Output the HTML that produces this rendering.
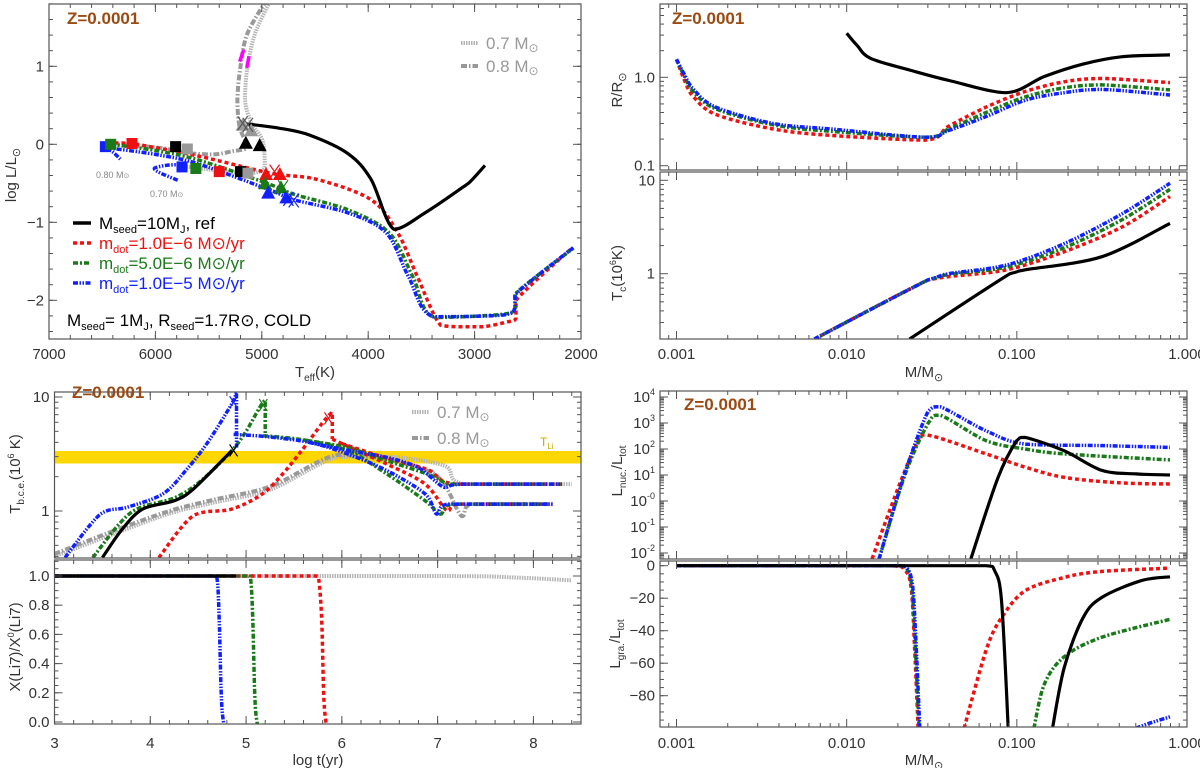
<!DOCTYPE html>
<html><head><meta charset="utf-8"><style>
html,body{margin:0;padding:0;background:#fff}
svg{display:block;font-family:"Liberation Sans","DejaVu Sans",sans-serif}
</style></head><body>
<svg id="chart" width="1200" height="768" viewBox="0 0 1200 768" xmlns="http://www.w3.org/2000/svg">
<defs>
<clipPath id="c1"><rect x="49" y="4" width="532" height="335"/></clipPath>
<clipPath id="c2"><rect x="54.5" y="392" width="526.5" height="166"/></clipPath>
<clipPath id="c3"><rect x="54.5" y="560" width="526.5" height="164"/></clipPath>
<clipPath id="c4"><rect x="660" y="4" width="527" height="166"/></clipPath>
<clipPath id="c5"><rect x="660" y="172" width="527" height="167"/></clipPath>
<clipPath id="c6"><rect x="660" y="391" width="527" height="168"/></clipPath>
<clipPath id="c7"><rect x="660" y="561" width="527" height="166"/></clipPath>
</defs>
<rect x="54.5" y="451" width="526.5" height="12.5" fill="#ffd700"/>
<g id="layer"></g>
<g font-size="15" fill="#333">
<text x="67" y="24" font-size="17" font-weight="bold" fill="#9a4a12">Z=0.0001</text>
<text x="72" y="398" font-size="17" font-weight="bold" fill="#9a4a12">Z=0.0001</text>
<text x="672" y="24" font-size="17" font-weight="bold" fill="#9a4a12">Z=0.0001</text>
<text x="684" y="410" font-size="17" font-weight="bold" fill="#9a4a12">Z=0.0001</text>
<text x="315" y="377" text-anchor="middle">T<tspan font-size="10" dy="4">eff</tspan><tspan dy="-4">(K)</tspan></text>
<text x="318" y="765" text-anchor="middle">log  t(yr)</text>
<text x="924" y="377" text-anchor="middle">M/M<tspan font-size="11" dy="4">⊙</tspan></text>
<text x="924" y="765" text-anchor="middle">M/M<tspan font-size="11" dy="4">⊙</tspan></text>
<text transform="translate(16,175) rotate(-90)" text-anchor="middle">log  L/L<tspan font-size="11" dy="4">⊙</tspan></text>
<text transform="translate(20,474) rotate(-90)" text-anchor="middle">T<tspan font-size="10" dy="4">b.c.e.</tspan><tspan dy="-4">(10</tspan><tspan font-size="9" dy="-6">6</tspan><tspan dy="6"> K)</tspan></text>
<text transform="translate(20,647) rotate(-90)" text-anchor="middle">X(Li7)/X<tspan font-size="9" dy="-6">0</tspan><tspan dy="6">(Li7)</tspan></text>
<text transform="translate(622,90) rotate(-90)" text-anchor="middle">R/R<tspan font-size="11" dy="4">⊙</tspan></text>
<text transform="translate(622,273) rotate(-90)" text-anchor="middle">T<tspan font-size="10" dy="4">c</tspan><tspan dy="-4">(10</tspan><tspan font-size="9" dy="-6">6</tspan><tspan dy="6">K)</tspan></text>
<text transform="translate(622,471) rotate(-90)" text-anchor="middle">L<tspan font-size="10" dy="4">nuc.</tspan><tspan dy="-4">/L</tspan><tspan font-size="10" dy="4">tot</tspan></text>
<text transform="translate(620,644) rotate(-90)" text-anchor="middle">L<tspan font-size="10" dy="4">gra.</tspan><tspan dy="-4">/L</tspan><tspan font-size="10" dy="4">tot</tspan></text>
<text x="96" y="178" font-size="9" fill="#888">0.80 M<tspan font-size="7">⊙</tspan></text>
<text x="150" y="197" font-size="9" fill="#888">0.70 M<tspan font-size="7">⊙</tspan></text>
<text x="540" y="446" font-size="12" fill="#c8a800">T<tspan font-size="8" dy="3">Li</tspan></text>
</g>
<g font-size="17">
<line x1="73" y1="223" x2="91" y2="223" stroke="#000" stroke-width="3.5"/>
<text x="99" y="229" fill="#000">M<tspan font-size="11" dy="4">seed</tspan><tspan dy="-4">=10M</tspan><tspan font-size="11" dy="4">J</tspan><tspan dy="-4">, ref</tspan></text>
<line x1="73" y1="243" x2="91" y2="243" stroke="#ee1111" stroke-width="3.5" stroke-dasharray="4,3"/>
<text x="99" y="249" fill="#ee1111">m<tspan font-size="11" dy="4">dot</tspan><tspan dy="-4">=1.0E−6 M⊙/yr</tspan></text>
<line x1="73" y1="263" x2="91" y2="263" stroke="#1a7a1a" stroke-width="3.5" stroke-dasharray="5,2,2,2"/>
<text x="99" y="269" fill="#1a7a1a">m<tspan font-size="11" dy="4">dot</tspan><tspan dy="-4">=5.0E−6 M⊙/yr</tspan></text>
<line x1="73" y1="283" x2="91" y2="283" stroke="#1020ff" stroke-width="3.5" stroke-dasharray="5,1.5,1.5,1.5,1.5,1.5"/>
<text x="99" y="289" fill="#1020ff">m<tspan font-size="11" dy="4">dot</tspan><tspan dy="-4">=1.0E−5 M⊙/yr</tspan></text>
<text x="67" y="326" fill="#000">M<tspan font-size="11" dy="4">seed</tspan><tspan dy="-4">=  1M</tspan><tspan font-size="11" dy="4">J</tspan><tspan dy="-4">, R</tspan><tspan font-size="11" dy="4">seed</tspan><tspan dy="-4">=1.7R⊙, COLD</tspan></text>
<line x1="461" y1="43" x2="478" y2="43" stroke="#b5b5b5" stroke-width="4" stroke-dasharray="1.5,1"/>
<text x="486" y="49" fill="#999">0.7 M<tspan font-size="12" dy="3">⊙</tspan></text>
<line x1="461" y1="66" x2="478" y2="66" stroke="#999" stroke-width="4" stroke-dasharray="6,2,1.5,2"/>
<text x="486" y="72" fill="#999">0.8 M<tspan font-size="12" dy="3">⊙</tspan></text>
<line x1="412" y1="412" x2="429" y2="412" stroke="#b5b5b5" stroke-width="4" stroke-dasharray="1.5,1"/>
<text x="437" y="418" fill="#999">0.7 M<tspan font-size="12" dy="3">⊙</tspan></text>
<line x1="412" y1="438" x2="429" y2="438" stroke="#999" stroke-width="4" stroke-dasharray="6,2,1.5,2"/>
<text x="437" y="444" fill="#999">0.8 M<tspan font-size="12" dy="3">⊙</tspan></text>
</g>
</svg>
<script>
// ---------- HR diagram data (Teff, log L) ----------
const hrRefT=[5140,4850,4556,4190,3973,3758,3466,3100,3028,2902];
const hrRefL=[0.26,0.21,0.12,-0.12,-0.45,-1.09,-0.88,-0.54,-0.46,-0.27];
const hrRedT=[6450,6226,5600,4917,4481,3974,3720,3537,3319,3100,2921,2700,2611,2611,2085];
const hrRedL=[0.02,0.01,-0.15,-0.37,-0.45,-0.71,-1.14,-1.70,-2.32,-2.34,-2.34,-2.28,-2.23,-2.0,-1.33];
const hrGreenT=[6420,6000,5600,4950,4700,4190,3800,3580,3380,2739,2620,2620,2070];
const hrGreenL=[0.0,-0.08,-0.2,-0.5,-0.64,-0.84,-1.14,-1.7,-2.22,-2.18,-2.1,-1.92,-1.33];
const hrBlueT=[6480,6000,5600,4917,4700,4190,3828,3620,3392,2739,2620,2620,2070];
const hrBlueL=[-0.04,-0.13,-0.25,-0.59,-0.71,-0.88,-1.14,-1.70,-2.21,-2.19,-2.1,-1.93,-1.32];
const hrG7T=[4917,5063,5135,5158,5097,4993,4972,5130,5450,5750];
const hrG7L=[1.85,1.42,0.99,0.57,0.27,0.05,-0.29,-0.37,-0.33,-0.28];
const hrG8T=[4955,5135,5201,5229,5208,5135,5280,5462,5717,5935,6370];
const hrG8L=[1.85,1.42,0.99,0.57,0.22,-0.03,-0.09,-0.13,-0.11,-0.05,0.0];
const hrLoopT=[5790,5950,6010,5900,5750];
const hrLoopL=[-0.46,-0.37,-0.31,-0.27,-0.26];
const hrTailT=[6480,6400,6330];
const hrTailL=[-0.03,-0.1,-0.19];
const magT=[5170,5208,5120,5142];
const magL=[1.21,1.06,1.13,0.98];
const sqT=[6470,5750,6420,5620,6220,5400,5810,5200,5700,5130];
const sqL=[-0.03,-0.29,0.0,-0.31,0.01,-0.35,-0.03,-0.35,-0.06,-0.37];
const sqC=['#1020ff','#1020ff','#1a7a1a','#1a7a1a','#ee1111','#ee1111','#000','#000','#999','#999'];
const triT=[5150,5020,5180,5100,4960,4830,4970,4820,4940,4770];
const triL=[0.02,-0.01,0.25,0.18,-0.38,-0.38,-0.5,-0.55,-0.62,-0.68];
const triC=['#000','#000','#999','#999','#ee1111','#ee1111','#1a7a1a','#1a7a1a','#1020ff','#1020ff'];
const xT=[5180,5130,4880,4800,4750,4700];
const xL=[0.27,0.25,-0.35,-0.55,-0.7,-0.72];
const xC=['#555','#555','#ee1111','#1a7a1a','#1020ff','#1020ff'];
// ---------- T_bce vs log t ----------
const tbBlackT=[3.5,3.7,3.92,4.25,4.45,4.85];
const tbBlackV=[0.39,0.68,1.04,1.23,1.56,3.38];
const tbBlueT=[3.11,3.48,3.76,4.13,4.37,4.6,4.85,4.90,4.9];
const tbBlueV=[0.39,0.94,1.08,1.41,2.26,4.0,8.7,11,3.6];
const tbBluePostT=[4.87,5.2,5.66,6.06,6.47,6.87,6.99,7.1,8.2];
const tbBluePostV=[4.7,4.5,4.0,3.16,2.26,1.41,0.94,1.15,1.15];
const tbBlueUpT=[5.66,6.06,6.47,6.8,7.07,7.27,8.3];
const tbBlueUpV=[4.0,3.4,2.95,2.4,1.61,1.72,1.72];
const tbGreenT=[3.40,3.80,4.25,4.53,4.85,5.0,5.20,5.2];
const tbGreenV=[0.39,0.97,1.3,1.84,3.38,5.0,9.3,4.6];
const tbGreenPostT=[5.18,5.6,6.06,6.47,6.87,7.03,7.15,8.15];
const tbGreenPostV=[4.58,4.2,3.4,2.11,1.23,0.94,1.15,1.15];
const tbGreenUpT=[5.6,6.06,6.47,6.9,7.11,7.25,8.3];
const tbGreenUpV=[4.2,3.6,2.76,2.1,1.72,1.72,1.72];
const tbRedT=[4.09,4.45,4.85,5.17,5.4,5.58,5.90,5.9];
const tbRedV=[0.39,0.91,1.04,1.41,2.2,3.38,7.3,4.27];
const tbRedPostT=[5.90,6.0,6.47,6.87,7.1,7.2,8.2];
const tbRedPostV=[4.27,3.9,2.58,1.72,1.0,1.15,1.15];
const tbRedUpT=[6.0,6.47,6.9,7.19,8.3];
const tbRedUpV=[3.9,2.9,2.3,1.72,1.72];
const tbG7T=[3.0,3.64,4.2,4.65,5.26,5.94,6.5,7.07,7.28,8.4];
const tbG7V=[0.4,0.64,0.95,1.18,1.55,2.95,3.0,2.5,1.72,1.72];
const tbG8T=[3.0,3.64,4.2,4.65,5.26,5.94,6.5,7.0,7.25,7.35,8.2];
const tbG8V=[0.42,0.68,1.0,1.25,1.65,3.1,2.8,2.0,0.9,1.15,1.15];
const tbXT=[4.87,5.18,5.86,4.87];
const tbXV=[9,8.5,6.5,3.4];
const tbXC=['#1020ff','#1a7a1a','#ee1111','#000'];
// ---------- Li depletion ----------
const liBlueT=[3,4.66,4.70,4.72,4.74,4.76,4.8,8.4];
const liGreenT=[3,5.02,5.05,5.07,5.09,5.11,5.15,8.4];
const liRedT=[3,5.73,5.76,5.79,5.81,5.83,5.86,8.2];
const liDropV=[1,1,0.97,0.7,0.2,0.02,-0.03,-0.03];
const liGrayT=[3,7.0,7.8,8.4];
const liGrayV=[1,1,0.99,0.97];
const liBlackT=[3,4.9];
const liBlackV=[1,1];
// ---------- Radius ----------
const rMass=[0.001,0.00112,0.00126,0.0017,0.0037,0.0081,0.029,0.0398,0.066,0.112,0.19,0.316,0.794];
const rRed=[1.6,0.9,0.60,0.38,0.26,0.22,0.195,0.28,0.46,0.69,0.89,0.97,0.87];
const rGreen=[1.6,1.0,0.68,0.44,0.29,0.245,0.21,0.26,0.40,0.60,0.76,0.82,0.72];
const rBlue=[1.6,1.05,0.73,0.46,0.30,0.26,0.21,0.25,0.36,0.55,0.67,0.73,0.63];
const rRefMass=[0.01,0.0115,0.0138,0.0234,0.04,0.087,0.145,0.245,0.417,0.794];
const rRef=[3.15,2.3,1.64,1.21,0.92,0.67,1.02,1.41,1.71,1.79];
// ---------- Central temperature ----------
const tcMass=[0.00646,0.0302,0.0398,0.087,0.19,0.417,0.794];
const tcRed=[0.2,0.86,0.93,1.1,1.72,3.18,6.7];
const tcGreen=[0.2,0.86,0.98,1.18,1.9,3.8,8.0];
const tcBlue=[0.2,0.86,1.0,1.24,2.1,4.4,9.3];
const tcRefMass=[0.0234,0.091,0.112,0.316,0.794];
const tcRef=[0.2,1.0,1.1,1.52,3.46];
// ---------- L_nuc ----------
const lnRedM=[0.0141,0.02,0.0257,0.0295,0.066,0.112,0.19,0.4,0.794];
const lnRed=[0.006,3,150,350,65,20,8.1,5,4.5];
const lnGreenM=[0.0155,0.022,0.0302,0.0355,0.066,0.112,0.19,0.794];
const lnGreen=[0.006,10,1000,2000,210,100,65,38];
const lnBlueM=[0.0155,0.022,0.0302,0.0355,0.066,0.112,0.316,0.794];
const lnBlue=[0.006,12,2900,4200,500,155,135,115];
const lnRefM=[0.0537,0.0776,0.1,0.112,0.19,0.316,0.5,0.794];
const lnRef=[0.006,8.1,210,280,85,15,11,10];
// ---------- L_gra ----------
const lgRedM=[0.001,0.0178,0.0221,0.024,0.0251,0.0263];
const lgRed=[0,0,-3,-15,-52,-100];
const lgRed2M=[0.049,0.066,0.0813,0.112,0.19,0.316,0.794];
const lgRed2=[-100,-52,-32,-15.4,-7.2,-3.5,-1.5];
const lgGreenM=[0.001,0.019,0.0221,0.024,0.0251,0.0266];
const lgGreen=[0,0,-1,-11,-42,-100];
const lgGreen2M=[0.126,0.145,0.19,0.316,0.794];
const lgGreen2=[-100,-73,-56,-44,-33];
const lgBlueM=[0.001,0.0195,0.0224,0.0243,0.0254,0.0269];
const lgBlue=[0,0,-1,-11,-42,-100];
const lgBlue2M=[0.5,0.6,0.794];
const lgBlue2=[-100,-97,-93];
const lgRefM=[0.001,0.066,0.074,0.0813,0.089];
const lgRef=[0,0,-3,-21.5,-100];
const lgRef2M=[0.162,0.19,0.245,0.316,0.537,0.794];
const lgRef2=[-100,-62.5,-32,-19.5,-9.2,-6.8];

const NS='http://www.w3.org/2000/svg';
const layer=document.getElementById('layer');
function mk(tag,parent){const e=document.createElementNS(NS,tag);(parent||layer).appendChild(e);return e;}
function lin(d0,d1,p0,p1){return v=>p0+(v-d0)*(p1-p0)/(d1-d0);}
function lg(d0,d1,p0,p1){const a=Math.log10(d0),b=Math.log10(d1);return v=>p0+(Math.log10(v)-a)*(p1-p0)/(b-a);}
const ST={
 ref:{c:'#000',d:'',w:3.2},
 red:{c:'#ee1111',d:'4,3',w:3.5},
 green:{c:'#1a7a1a',d:'5,2,2,2',w:3.5},
 blue:{c:'#1020ff',d:'5,1.5,1.5,1.5,1.5,1.5',w:3.5},
 g7:{c:'#b5b5b5',d:'1.5,1',w:4},
 g8:{c:'#999',d:'6,2,1.5,2',w:4},
 mag:{c:'#ff00ff',d:'',w:3.5}
};
function clamp(v,a,b){const lo=Math.min(a,b),hi=Math.max(a,b);return Math.max(lo,Math.min(hi,v));}
function smoothPath(P){
  let d='M'+P[0][0].toFixed(1)+','+P[0][1].toFixed(1);
  const k=0.16;
  for(let i=0;i<P.length-1;i++){
    const p0=P[Math.max(i-1,0)],p1=P[i],p2=P[i+1],p3=P[Math.min(i+2,P.length-1)];
    let c1=[p1[0]+(p2[0]-p0[0])*k,p1[1]+(p2[1]-p0[1])*k];
    let c2=[p2[0]-(p3[0]-p1[0])*k,p2[1]-(p3[1]-p1[1])*k];
    c1=[clamp(c1[0],p1[0],p2[0]),clamp(c1[1],p1[1],p2[1])];
    c2=[clamp(c2[0],p1[0],p2[0]),clamp(c2[1],p1[1],p2[1])];
    d+='C'+c1[0].toFixed(1)+','+c1[1].toFixed(1)+' '+c2[0].toFixed(1)+','+c2[1].toFixed(1)+' '+p2[0].toFixed(1)+','+p2[1].toFixed(1);
  }
  return d;
}
function series(xs,ys,sx,sy,st,clip,name){
  const P=[];
  for(let i=0;i<xs.length;i++){P.push([sx(xs[i]),sy(ys[i])]);}
  const p=mk('path');
  p.setAttribute('d',smoothPath(P));p.setAttribute('fill','none');
  p.setAttribute('stroke',ST[st].c);p.setAttribute('stroke-width',ST[st].w);
  p.setAttribute('stroke-linejoin','round');
  if(ST[st].d)p.setAttribute('stroke-dasharray',ST[st].d);
  p.setAttribute('clip-path','url(#'+clip+')');
  
  
}
function frame(x0,y0,x1,y1,name){
  const r=mk('rect');
  r.setAttribute('x',x0);r.setAttribute('y',y0);r.setAttribute('width',x1-x0);r.setAttribute('height',y1-y0);
  r.setAttribute('fill','none');r.setAttribute('stroke','#555');r.setAttribute('stroke-width','1.2');
  
  
}
function tick(x1,y1,x2,y2){const l=mk('line');l.setAttribute('x1',x1);l.setAttribute('y1',y1);l.setAttribute('x2',x2);l.setAttribute('y2',y2);l.setAttribute('stroke','#555');l.setAttribute('stroke-width','1');
  
  }
function label(x,y,txt,anchor,name,sup){
  const t=mk('text');t.setAttribute('x',x);t.setAttribute('y',y);t.setAttribute('text-anchor',anchor);
  t.setAttribute('font-size','15');t.setAttribute('fill','#333');
  t.textContent=txt;
  if(sup!==undefined){const s=mk('tspan',t);s.setAttribute('font-size','9');s.setAttribute('dy','-7');s.textContent=sup;}
  
  
}
function xTicks(sx,vals,minor,y0,y1,x0,x1,labs,ly,name){
  minor.forEach(v=>{const p=sx(v);if(p>=x0-0.5&&p<=x1+0.5){tick(p,y1,p,y1-4);tick(p,y0,p,y0+4);}});
  vals.forEach((v,i)=>{const p=sx(v);tick(p,y1,p,y1-8);tick(p,y0,p,y0+8);if(labs)label(p,ly,labs[i],'middle',name);});
}
function yTicks(sy,vals,minor,x0,x1,y0,y1,labs,name,sups){
  minor.forEach(v=>{const p=sy(v);if(p>=y0-0.5&&p<=y1+0.5){tick(x0,p,x0+4,p);tick(x1,p,x1-4,p);}});
  vals.forEach((v,i)=>{const p=sy(v);tick(x0,p,x0+8,p);tick(x1,p,x1-8,p);label(x0-5,p+5,labs[i],'end',name,sups?sups[i]:undefined);});
}
function range(a,b,s){const r=[];for(let v=a;v<=b+1e-9;v+=s)r.push(+v.toFixed(6));return r;}
function logMinor(d0,d1){const r=[];for(let e=d0;e<d1;e++)for(let k=2;k<=9;k++)r.push(k*Math.pow(10,e));return r;}

// ---- Panel 1: HR ----
const s1x=lin(7000,2000,49,581), s1y=lin(0,-1,144.3,222.3);
series(hrG7T,hrG7L,s1x,s1y,'g7','c1','hr-track-07msun');
series(hrG8T,hrG8L,s1x,s1y,'g8','c1','hr-track-08msun');
series([magT[0],magT[1]],[magL[0],magL[1]],s1x,s1y,'mag','c1','hr-magenta-segment-1');
series([magT[2],magT[3]],[magL[2],magL[3]],s1x,s1y,'mag','c1','hr-magenta-segment-2');
series(hrRedT,hrRedL,s1x,s1y,'red','c1','hr-track-mdot-1e-6');
series(hrGreenT,hrGreenL,s1x,s1y,'green','c1','hr-track-mdot-5e-6');
series(hrBlueT,hrBlueL,s1x,s1y,'blue','c1','hr-track-mdot-1e-5');
series(hrLoopT,hrLoopL,s1x,s1y,'blue','c1','hr-loop-070');
series(hrTailT,hrTailL,s1x,s1y,'blue','c1','hr-tail-080');
series(hrRefT,hrRefL,s1x,s1y,'ref','c1','hr-track-ref');
sqT.forEach((t,i)=>{const r=mk('rect');r.setAttribute('x',s1x(t)-5.5);r.setAttribute('y',s1y(sqL[i])-5.5);r.setAttribute('width',11);r.setAttribute('height',11);r.setAttribute('fill',sqC[i]);
  
  });
triT.forEach((t,i)=>{const x=s1x(t),y=s1y(triL[i]);const p=mk('polygon');p.setAttribute('points',`${x-7},${y+6} ${x+7},${y+6} ${x},${y-7}`);p.setAttribute('fill',triC[i]);
  
  });
xT.forEach((t,i)=>{const x=s1x(t),y=s1y(xL[i]);const p=mk('path');p.setAttribute('d',`M${x-5},${y-7}L${x+5},${y+7}M${x+5},${y-7}L${x-5},${y+7}`);p.setAttribute('stroke',xC[i]);p.setAttribute('stroke-width','1.2');
  
  });
frame(49,4,581,339,'hr-panel-frame');
xTicks(s1x,[7000,6000,5000,4000,3000,2000],range(2000,7000,200),4,339,49,581,['7000','6000','5000','4000','3000','2000'],359,'x-tick-label-teff');
yTicks(s1y,[1,0,-1,-2],range(-2.4,1.8,0.2),49,581,4,339,['1','0','−1','−2'],'y-tick-label-log-l');

// ---- Panel 2: T_bce ----
const s2x=lin(3,8,54.5,533.4), s2y=lg(1,10,511,397);
series(tbG7T,tbG7V,s2x,s2y,'g7','c2','tbce-07msun');
series(tbG8T,tbG8V,s2x,s2y,'g8','c2','tbce-08msun');
series(tbRedT,tbRedV,s2x,s2y,'red','c2','tbce-red-rise');
series(tbRedPostT,tbRedPostV,s2x,s2y,'red','c2','tbce-red-post');
series(tbRedUpT,tbRedUpV,s2x,s2y,'red','c2','tbce-red-upper');
series(tbGreenT,tbGreenV,s2x,s2y,'green','c2','tbce-green-rise');
series(tbGreenPostT,tbGreenPostV,s2x,s2y,'green','c2','tbce-green-post');
series(tbGreenUpT,tbGreenUpV,s2x,s2y,'green','c2','tbce-green-upper');
series(tbBlueT,tbBlueV,s2x,s2y,'blue','c2','tbce-blue-rise');
series(tbBluePostT,tbBluePostV,s2x,s2y,'blue','c2','tbce-blue-post');
series(tbBlueUpT,tbBlueUpV,s2x,s2y,'blue','c2','tbce-blue-upper');
series(tbBlackT,tbBlackV,s2x,s2y,'ref','c2','tbce-ref');
tbXT.forEach((t,i)=>{const x=s2x(t),y=s2y(tbXV[i]);const p=mk('path');p.setAttribute('d',`M${x-4},${y-6}L${x+4},${y+6}M${x+4},${y-6}L${x-4},${y+6}`);p.setAttribute('stroke',tbXC[i]);p.setAttribute('stroke-width','1.2');
  
  });
frame(54.5,392,581,558,'tbce-panel-frame');
xTicks(s2x,[3,4,5,6,7,8],range(3,8.5,0.2),392,558,54.5,581,null,0,'');
yTicks(s2y,[1,10],[0.4,0.5,0.6,0.7,0.8,0.9,2,3,4,5,6,7,8,9],54.5,581,392,558,['1','10'],'y-tick-label-tbce');

// ---- Panel 3: Li ----
const s3y=lin(0,1,722,576);
series(liGrayT,liGrayV,s2x,s3y,'g7','c3','li-07msun');
series(liRedT,liDropV,s2x,s3y,'red','c3','li-red');
series(liGreenT,liDropV,s2x,s3y,'green','c3','li-green');
series(liBlueT,liDropV,s2x,s3y,'blue','c3','li-blue');
series(liBlackT,liBlackV,s2x,s3y,'ref','c3','li-ref');
frame(54.5,560,581,724,'li-panel-frame');
xTicks(s2x,[3,4,5,6,7,8],range(3,8.5,0.2),560,724,54.5,581,['3','4','5','6','7','8'],748,'x-tick-label-log-t');
yTicks(s3y,[0,0.2,0.4,0.6,0.8,1.0],range(0,1.1,0.05),54.5,581,560,724,['0.0','0.2','0.4','0.6','0.8','1.0'],'y-tick-label-li');

// ---- Right column x ----
const sRx=lg(0.001,1,676.5,1187);
const mMajor=[0.001,0.01,0.1,1], mLab=['0.001','0.010','0.100','1.000'], mMinor=logMinor(-4,0);

// ---- Panel 4: R ----
const s4y=lg(0.1,1,165.7,77.3);
series(rMass,rRed,sRx,s4y,'red','c4','radius-red');
series(rMass,rGreen,sRx,s4y,'green','c4','radius-green');
series(rMass,rBlue,sRx,s4y,'blue','c4','radius-blue');
series(rRefMass,rRef,sRx,s4y,'ref','c4','radius-ref');
frame(660,4,1187,170,'radius-panel-frame');
xTicks(sRx,mMajor,mMinor,4,170,660,1187,null,0,'');
yTicks(s4y,[0.1,1],[0.2,0.3,0.4,0.5,0.6,0.7,0.8,0.9,2,3,4,5,6],660,1187,4,170,['0.1','1.0'],'y-tick-label-radius');

// ---- Panel 5: Tc ----
const s5y=lg(1,10,273.7,180.3);
series(tcMass,tcRed,sRx,s5y,'red','c5','tc-red');
series(tcMass,tcGreen,sRx,s5y,'green','c5','tc-green');
series(tcMass,tcBlue,sRx,s5y,'blue','c5','tc-blue');
series(tcRefMass,tcRef,sRx,s5y,'ref','c5','tc-ref');
frame(660,172,1187,339,'tc-panel-frame');
xTicks(sRx,mMajor,mMinor,172,339,660,1187,mLab,359,'x-tick-label-mass-top');
yTicks(s5y,[1,10],[0.3,0.4,0.5,0.6,0.7,0.8,0.9,2,3,4,5,6,7,8,9],660,1187,172,339,['1','10'],'y-tick-label-tc');

// ---- Panel 6: Lnuc ----
const s6y=lg(0.01,10000,553,397);
series(lnRedM,lnRed,sRx,s6y,'red','c6','lnuc-red');
series(lnGreenM,lnGreen,sRx,s6y,'green','c6','lnuc-green');
series(lnBlueM,lnBlue,sRx,s6y,'blue','c6','lnuc-blue');
series(lnRefM,lnRef,sRx,s6y,'ref','c6','lnuc-ref');
frame(660,391,1187,559,'lnuc-panel-frame');
xTicks(sRx,mMajor,mMinor,391,559,660,1187,null,0,'');
yTicks(s6y,[0.01,0.1,1,10,100,1000,10000],logMinor(-3,4),660,1187,391,559,['10','10','10','10','10','10','10'],'y-tick-label-lnuc',['-2','-1','-0','1','2','3','4']);

// ---- Panel 7: Lgra ----
const s7y=lin(0,-80,565.7,695.7);
series(lgRedM,lgRed,sRx,s7y,'red','c7','lgra-red');
series(lgRed2M,lgRed2,sRx,s7y,'red','c7','lgra-red-2');
series(lgGreenM,lgGreen,sRx,s7y,'green','c7','lgra-green');
series(lgGreen2M,lgGreen2,sRx,s7y,'green','c7','lgra-green-2');
series(lgBlueM,lgBlue,sRx,s7y,'blue','c7','lgra-blue');
series(lgBlue2M,lgBlue2,sRx,s7y,'blue','c7','lgra-blue-2');
series(lgRefM,lgRef,sRx,s7y,'ref','c7','lgra-ref');
series(lgRef2M,lgRef2,sRx,s7y,'ref','c7','lgra-ref-2');
frame(660,561,1187,727,'lgra-panel-frame');
xTicks(sRx,mMajor,mMinor,561,727,660,1187,mLab,748,'x-tick-label-mass-bottom');
yTicks(s7y,[0,-20,-40,-60,-80],range(-100,0,5),660,1187,561,727,['0','−20','−40','−60','−80'],'y-tick-label-lgra');
</script>
</body></html>
